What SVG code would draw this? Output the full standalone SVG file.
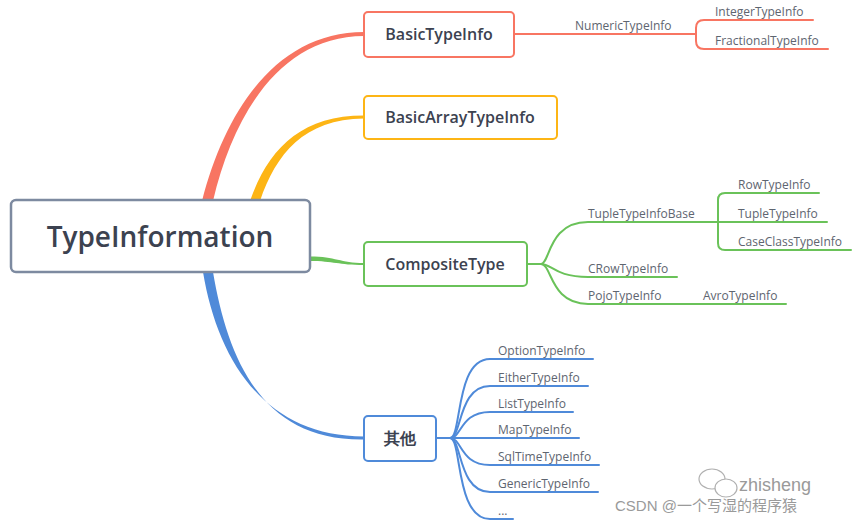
<svg xmlns="http://www.w3.org/2000/svg" width="853" height="523" viewBox="0 0 853 523">
<style>
.node{fill:#fff;stroke-width:2}
.t{font-family:"Open Sans","Noto Sans",sans-serif;fill:#3c4250}
.main{font-size:16px;font-weight:600;text-anchor:middle}
.sub{font-size:12px;fill:#5e6570}
.ln{fill:none;stroke-width:2;stroke-linecap:round}
.r{stroke:#f87562}.o{stroke:#fdb515}.g{stroke:#6ac259}.b{stroke:#4f8ad9}
.wm{font-family:"Liberation Sans","Noto Sans CJK SC",sans-serif;fill:#9a9a9a}
</style>
<rect width="853" height="523" fill="#fff"/>
<g id="connectors">
  <path d="M202,201 C 226,108 278,32 364,32 L364,36 C 282,36 234,112 213,201 Z" fill="#f87562"/>
  <path d="M250,201 C 268,150 300,115.5 364,115.5 L364,118.5 C 304,119 276,154 260,201 Z" fill="#fdb515"/>
  <path d="M310,256.5 C 336,256.5 340,263 364,263 L364,265 C 338,265 334,261 310,261 Z" fill="#6ac259"/>
  <path d="M203,272 C 218,362 266,436.5 364,436.5 L364,439.5 C 262,441 228,360 213,272 Z" fill="#4f8ad9"/>
  <!-- Basic children -->
  <path class="ln r" d="M514,34 H696"/>
  <path class="ln r" d="M813,20 H704 Q696,20 696,28 V41 Q696,49 704,49 H828"/>
  <!-- Composite children -->
  <path class="ln g" d="M527,264 H541 C 550,264 548,222 588,222 H827"/>
  <path class="ln g" d="M541,264 C 552,264 555,277 588,277 H677"/>
  <path class="ln g" d="M541,264 C 552,264 550,304 588,304 H786"/>
  <path class="ln g" d="M819,193 H725 Q718,193 718,200 V243 Q718,250 725,250 H851"/>
  <!-- Others children -->
  <path class="ln b" d="M436,438 H450"/>
  <path class="ln b" d="M450,438 C 462,438 455,359 490,359 H593"/>
  <path class="ln b" d="M450,438 C 462,438 458,386 490,386 H588"/>
  <path class="ln b" d="M450,438 C 462,438 460,412 490,412 H573"/>
  <path class="ln b" d="M450,438 H579"/>
  <path class="ln b" d="M450,438 C 462,438 460,465 490,465 H599"/>
  <path class="ln b" d="M450,438 C 462,438 458,492 490,492 H598"/>
  <path class="ln b" d="M450,438 C 462,438 455,519 490,519 H513"/>
</g>
<g id="root">
  <rect x="11" y="200" width="299" height="72" rx="5" fill="#fff" stroke="#7d8aa0" stroke-width="2.5"/>
  <text class="t" x="160" y="247" font-size="28" font-weight="600" text-anchor="middle">TypeInformation</text>
</g>
<g id="basic">
  <rect class="node r" x="364" y="12" width="150" height="45" rx="4"/>
  <text class="t main" x="439" y="40">BasicTypeInfo</text>
</g>
<g id="basicarray">
  <rect class="node o" x="364" y="96" width="193" height="43" rx="4"/>
  <text class="t main" x="460" y="123">BasicArrayTypeInfo</text>
</g>
<g id="composite">
  <rect class="node g" x="364" y="242" width="163" height="44" rx="4"/>
  <text class="t main" x="445" y="270">CompositeType</text>
</g>
<g id="others">
  <rect class="node b" x="364" y="416" width="72" height="45" rx="4"/>
  <text class="t main" x="400" y="444" font-family="'Noto Sans CJK SC',sans-serif">其他</text>
</g>
<g id="numeric"><text class="t sub" x="575" y="30">NumericTypeInfo</text></g>
<g id="integer"><text class="t sub" x="715" y="16">IntegerTypeInfo</text></g>
<g id="fractional"><text class="t sub" x="715" y="45">FractionalTypeInfo</text></g>
<g id="tuplebase"><text class="t sub" x="588" y="218">TupleTypeInfoBase</text></g>
<g id="row"><text class="t sub" x="738" y="189">RowTypeInfo</text></g>
<g id="tuple"><text class="t sub" x="738" y="218">TupleTypeInfo</text></g>
<g id="caseclass"><text class="t sub" x="738" y="246">CaseClassTypeInfo</text></g>
<g id="crow"><text class="t sub" x="588" y="273">CRowTypeInfo</text></g>
<g id="pojo"><text class="t sub" x="588" y="300">PojoTypeInfo</text></g>
<g id="avro"><text class="t sub" x="703" y="300">AvroTypeInfo</text></g>
<g id="option"><text class="t sub" x="498" y="355">OptionTypeInfo</text></g>
<g id="either"><text class="t sub" x="498" y="382">EitherTypeInfo</text></g>
<g id="list"><text class="t sub" x="498" y="408">ListTypeInfo</text></g>
<g id="map"><text class="t sub" x="498" y="434">MapTypeInfo</text></g>
<g id="sqltime"><text class="t sub" x="498" y="461">SqlTimeTypeInfo</text></g>
<g id="generic"><text class="t sub" x="498" y="488">GenericTypeInfo</text></g>
<g id="more"><text class="t sub" x="498" y="515">...</text></g>
<g id="watermark">
  <ellipse cx="712" cy="479" rx="13" ry="10" fill="none" stroke="#b0b0b0" stroke-width="1.2"/>
  <ellipse cx="726" cy="488" rx="11" ry="9" fill="#fff" stroke="#b0b0b0" stroke-width="1.2"/>
  <text class="wm" x="739" y="491" font-size="18">zhisheng</text>
  <text class="wm" x="615" y="511" font-size="15">CSDN @一个写湿的程序猿</text>
</g>
</svg>
